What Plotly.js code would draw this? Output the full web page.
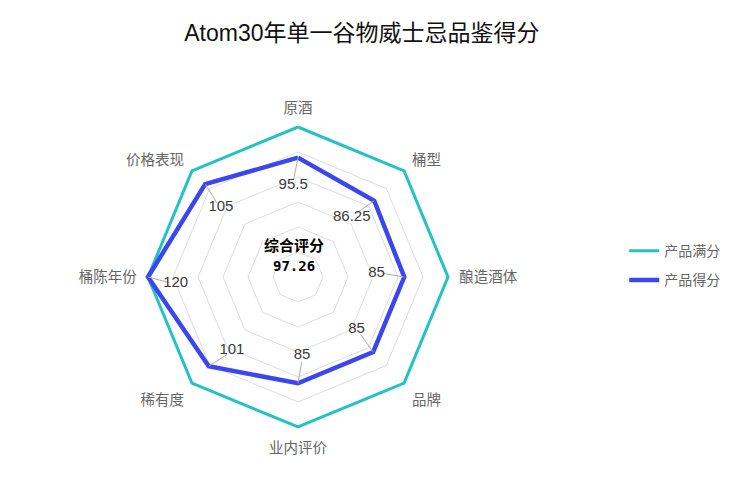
<!DOCTYPE html>
<html><head><meta charset="utf-8">
<script src="https://cdn.plot.ly/plotly-3.0.1.min.js"></script>
<style>html,body{margin:0;padding:0;background:#fff;}#chart{width:737px;height:477px;}</style>
</head><body><div id="chart"></div>
<script>
const categories = ['原酒','桶型','酿造酒体','品牌','业内评价','稀有度','桶陈年份','价格表现'];
const fullScores = [120,120,120,120,120,120,120,120];
const productScores = [95.5,86.25,85,85,85,101,120,105];
const overallLabel = '综合评分';
const overallScore = '97.26';
const maxValue = 120;

const step = 360 / categories.length;
const thetas = categories.map((c,i)=>i*step);
const close = a => a.concat([a[0]]);
const rMax = maxValue * 1.025; // small headroom so the outer line is not clipped

const traces = [];
traces.push({
  type:'scatterpolar', name:'产品满分', legendgroup:'a', r: close(fullScores), theta: close(categories),
  mode:'lines', line:{color:'#24c2c4', width:3}, hoverinfo:'skip', subplot:'polar'
});
traces.push({
  type:'scatterpolar', name:'产品得分', legendgroup:'b', r: close(productScores), theta: close(categories),
  mode:'lines', line:{color:'#3a47ee', width:4.5}, hoverinfo:'skip', subplot:'polar'
});
productScores.forEach((v,i)=>{
  traces.push({
    type:'scatterpolar', subplot:'polar2', r:[v, v-17], theta:[thetas[i], thetas[i]-2.5], thetaunit:'degrees',
    mode:'lines', line:{color:'#aaaaaa', width:1}, showlegend:false, hoverinfo:'skip'
  });
});
traces.push({
  type:'scatterpolar', subplot:'polar2', r: productScores.map(v=>v-22), theta: thetas.map(t=>t-3), thetaunit:'degrees',
  mode:'text', text: productScores.map(String), textposition:'middle center',
  textfont:{family:'Arial, "Liberation Sans", sans-serif', size:15, color:'#3a3a3a'},
  showlegend:false, hoverinfo:'skip'
});

const cx = 298, cy = 277, rad = 150 * rMax / maxValue, W = 737, H = 477;
const dom = {x:[(cx-rad)/W, (cx+rad)/W], y:[(H-cy-rad)/H, (H-cy+rad)/H]};
const layout = {
  width:W, height:H,
  margin:{l:0,r:0,t:0,b:0},
  paper_bgcolor:'#fff', plot_bgcolor:'#fff',
  font:{family:'"Noto Sans CJK SC", "Liberation Sans", sans-serif', color:'#666', size:14},
  title:{text:'Atom30年单一谷物威士忌品鉴得分', x:0.491, xanchor:'center', y:0.93, yanchor:'middle',
    font:{family:'"Liberation Sans", "Noto Sans CJK SC", sans-serif', size:23, color:'#111'}},
  showlegend:true,
  legend:{x:0.847, y:0.443, xanchor:'left', yanchor:'middle', itemwidth:30,
    font:{size:14, color:'#666'}, tracegroupgap:8},
  polar:{
    domain:dom,
    gridshape:'linear',
    bgcolor:'rgba(0,0,0,0)',
    radialaxis:{range:[0,rMax], tickvals:[20,40,60,80,100,120], showticklabels:false, ticks:'', showline:false,
      gridcolor:'#dddddd', gridwidth:1},
    angularaxis:{type:'category', direction:'clockwise', rotation:90,
      showgrid:false, showline:false, ticks:'outside', ticklen:4, tickcolor:'rgba(0,0,0,0)',
      tickfont:{size:14.5, color:'#666'}}
  },
  polar2:{
    domain:dom,
    bgcolor:'rgba(0,0,0,0)',
    radialaxis:{range:[0,rMax], visible:false},
    angularaxis:{direction:'clockwise', rotation:90, thetaunit:'degrees', visible:false}
  },
  annotations:[
    {xref:'paper', yref:'paper', x:294/W, y:1-(245/H), showarrow:false, text:'<b>'+overallLabel+'</b>',
     font:{family:'"Noto Sans CJK SC", sans-serif', size:15, color:'#000'}},
    {xref:'paper', yref:'paper', x:294/W, y:1-(266/H), showarrow:false, text:'<b>'+overallScore+'</b>',
     font:{family:'"DejaVu Sans Mono", monospace', size:14, color:'#000'}}
  ]
};
Plotly.newPlot('chart', traces, layout, {displayModeBar:false, staticPlot:true});
</script></body></html>
